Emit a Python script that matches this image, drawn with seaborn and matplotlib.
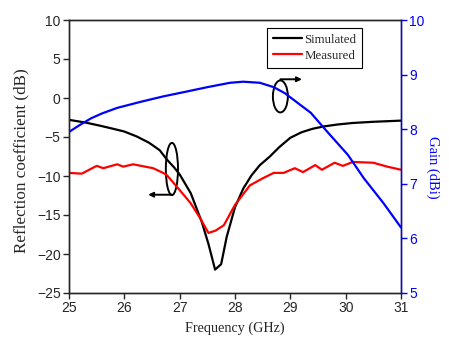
import numpy as np
import pandas as pd
import seaborn as sns
import matplotlib
matplotlib.use("Agg")
import matplotlib.pyplot as plt
from matplotlib.patches import Ellipse

# ---- data ----
freq_sim = [25.0, 25.3, 25.56, 25.8, 26.0, 26.23, 26.45, 26.64, 26.77, 26.9, 27.0,
            27.2, 27.4, 27.52, 27.64, 27.75, 27.85, 28.0, 28.15, 28.3, 28.45, 28.63,
            28.8, 29.0, 29.2, 29.4, 29.6, 29.85, 30.13, 30.5, 31.0]
s11_sim = [-2.8, -3.15, -3.55, -3.95, -4.3, -4.95, -5.75, -6.7, -7.9, -8.9, -9.8,
           -12.2, -15.9, -18.7, -22.0, -21.3, -17.8, -14.0, -11.6, -9.9, -8.6, -7.5,
           -6.3, -5.1, -4.4, -3.95, -3.65, -3.4, -3.2, -3.05, -2.9]

freq_meas = [25.0, 25.23, 25.5, 25.62, 25.87, 25.98, 26.16, 26.52, 26.7, 26.77, 27.0,
             27.2, 27.37, 27.52, 27.65, 27.8, 27.9, 28.0, 28.27, 28.5, 28.7, 28.88,
             29.08, 29.23, 29.45, 29.57, 29.8, 29.95, 30.13, 30.5, 30.75, 31.0]
s11_meas = [-9.6, -9.7, -8.7, -9.0, -8.5, -8.8, -8.5, -9.0, -9.6, -9.9, -11.8,
            -13.5, -15.4, -17.3, -17.0, -16.3, -15.0, -13.7, -11.2, -10.3, -9.6, -9.6,
            -9.0, -9.5, -8.6, -9.2, -8.3, -8.7, -8.2, -8.3, -8.8, -9.2]

freq_gain = [25.0, 25.2, 25.4, 25.6, 25.87, 26.29, 26.7, 27.08, 27.5, 27.91, 28.15,
             28.45, 28.7, 28.9, 29.07, 29.37, 29.67, 30.04, 30.33, 30.68, 31.0]
gain = [7.95, 8.08, 8.2, 8.29, 8.39, 8.5, 8.6, 8.68, 8.77, 8.85, 8.87,
        8.85, 8.77, 8.66, 8.53, 8.3, 7.95, 7.53, 7.1, 6.65, 6.2]

x_ticks = [25, 26, 27, 28, 29, 30, 31]
y_ticks = [-25, -20, -15, -10, -5, 0, 5, 10]
g_ticks = [5, 6, 7, 8, 9, 10]

sns.set_style("ticks")
plt.rcParams['font.family'] = ['Liberation Sans', 'DejaVu Sans']
serif = ['Liberation Serif', 'DejaVu Serif']

fig = plt.figure(figsize=(4.49, 3.41), dpi=100)
ax = fig.add_axes([69/449, 1-293/341, (401-69)/449, (293-20)/341])

sns.lineplot(x=freq_sim, y=s11_sim, ax=ax, color='black', lw=1.6, label='Simulated')
sns.lineplot(x=freq_meas, y=s11_meas, ax=ax, color='red', lw=1.6, label='Measured')
ax.set_xlim(25, 31)
ax.set_ylim(-25, 10)
ax.set_xticks(x_ticks)
ax.set_yticks(y_ticks)
ax.tick_params(direction='out', length=4, width=1, labelsize=10, pad=2)
ax.set_xlabel('Frequency (GHz)', family=serif, fontsize=10.2)
ax.xaxis.set_label_coords(0.5, -0.105)
ax.set_ylabel('Reflection coefficient (dB)', family=serif, fontsize=12.3)
ax.yaxis.set_label_coords(-0.118, 0.485)
handles, labels = ax.get_legend_handles_labels()
ax.get_legend().remove()

ax2 = ax.twinx()
sns.lineplot(x=freq_gain, y=gain, ax=ax2, color='blue', lw=1.6, legend=False)
ax2.set_ylim(5, 10)
ax2.set_yticks(g_ticks)
ax2.tick_params(axis='y', direction='out', length=4, width=1, labelsize=10,
                colors='blue', pad=2)
ax2.spines['right'].set_color('blue')
ax2.set_ylabel('Gain (dBi)', family=serif, fontsize=10.5, color='blue',
               rotation=270, va='center')
ax2.yaxis.set_label_coords(1.095, 0.46)
for a in (ax, ax2):
    for s in a.spines.values():
        s.set_linewidth(1.0)

leg = ax2.legend(handles, labels, loc='upper left', bbox_to_anchor=(0.596, 0.971),
                 borderaxespad=0, frameon=True, fancybox=False, edgecolor='black',
                 framealpha=1, prop={'family': serif, 'size': 9.3},
                 handlelength=2.3, handletextpad=0.15, borderpad=0.45,
                 labelspacing=0.3)
leg.get_frame().set_linewidth(0.8)

# annotation ellipses with arrows
ax.add_patch(Ellipse((26.86, -9.1), 0.22, 6.7, fill=False, edgecolor='black', lw=1.4))
ax.annotate('', xy=(26.43, -12.4), xytext=(26.86, -12.4),
            arrowprops=dict(arrowstyle='-|>', color='black', lw=1.4,
                            mutation_scale=7, shrinkA=0, shrinkB=0))
ax.add_patch(Ellipse((28.82, 0.2), 0.27, 4.1, fill=False, edgecolor='black', lw=1.4))
ax.annotate('', xy=(29.21, 2.4), xytext=(28.82, 2.4),
            arrowprops=dict(arrowstyle='-|>', color='black', lw=1.4,
                            mutation_scale=7, shrinkA=0, shrinkB=0))

fig.savefig('out.png', dpi=100)
